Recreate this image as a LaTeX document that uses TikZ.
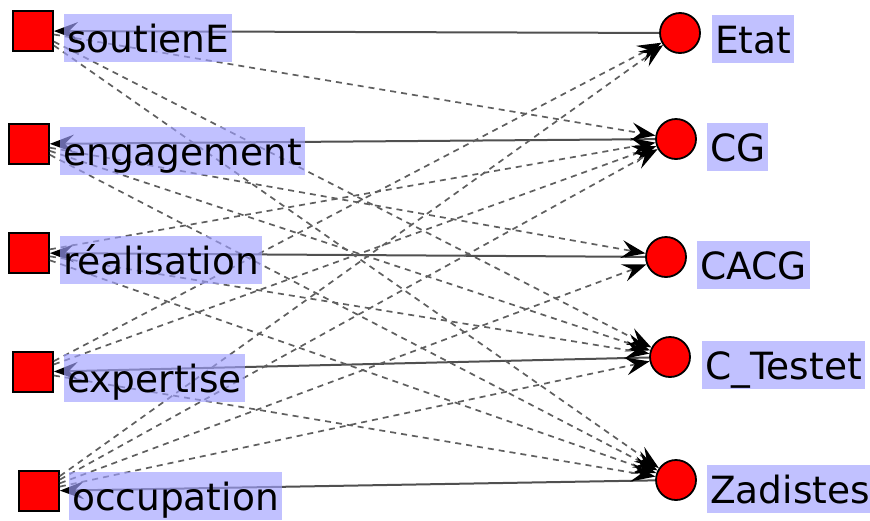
\documentclass[tikz,border=0pt]{standalone}
\usepackage{fontspec}
\setmainfont{DejaVu Sans}
\usetikzlibrary{arrows.meta}
\definecolor{lab}{RGB}{160,160,255}
\definecolor{solidc}{RGB}{80,80,80}
\definecolor{dashc}{RGB}{95,95,95}
\begin{document}
\begin{tikzpicture}[x=1pt,y=-1pt,
  sq/.style={draw=black,line width=1.8pt,fill=red,minimum size=40pt,inner sep=0pt},
  circ/.style={circle,draw=black,line width=1.8pt,fill=red,minimum size=40pt,inner sep=0pt},
  lbl/.style={fill=lab,fill opacity=0.65,text opacity=1,inner xsep=3pt,inner ysep=0pt,
    text height=38pt,text depth=10pt,anchor=base west,font=\fontsize{37.5}{40}\selectfont},
  tip/.style={-{Stealth[length=24pt,width=18pt,inset=9pt,color=black]}},
  soledge/.style={tip,draw=solidc,line width=2pt},
  dashedge/.style={tip,draw=dashc,line width=1.7pt,dash pattern=on 6pt off 5pt}
]
\useasboundingbox (0,0) rectangle (870,520);
% left squares
\node[sq] (sS) at (33,31) {};
\node[sq] (sEn) at (29,144) {};
\node[sq] (sR) at (29,253) {};
\node[sq] (sEx) at (33,372) {};
\node[sq] (sO) at (39,491) {};
% right circles
\node[circ] (cE) at (680,33) {};
\node[circ] (cCG) at (676,139) {};
\node[circ] (cCA) at (666,257) {};
\node[circ] (cT) at (670,357) {};
\node[circ] (cZ) at (676,480) {};
% solid edges
\draw[soledge] (cE) -- (sS);
\draw[soledge] (cCG) -- (sEn);
\draw[soledge] (cCA) -- (sR);
\draw[soledge] (cT) -- (sEx);
\draw[soledge] (cZ) -- (sO);
% dashed edges
\draw[dashedge] (sS) -- (cCG);
\draw[dashedge] (sS) -- (cT);
\draw[dashedge] (sS) -- (cZ);
\draw[dashedge] (sEn) -- (cCA);
\draw[dashedge] (sEn) -- (cT);
\draw[dashedge] (sEn) -- (cZ);
\draw[dashedge] (sR) -- (cCG);
\draw[dashedge] (sR) -- (cT);
\draw[dashedge] (sR) -- (cZ);
\draw[dashedge] (sEx) -- (cE);
\draw[dashedge] (sEx) -- (cCG);
\draw[dashedge] (sEx) -- (cZ);
\draw[dashedge] (sO) -- (cE);
\draw[dashedge] (sO) -- (cCG);
\draw[dashedge] (sO) -- (cCA);
\draw[dashedge] (sO) -- (cT);
% labels
\node[lbl] (lS) at (64,52) {soutienE};
\node[lbl] (lEn) at (60,165) {engagement};
\node[lbl] (lR) at (60,274) {réalisation};
\node[lbl] (lEx) at (64,392) {expertise};
\node[lbl] (lO) at (69,510) {occupation};
\node[lbl] (lE) at (712,53) {Etat};
\node[lbl] (lCG) at (707,161) {CG};
\node[lbl] (lCA) at (697,279) {CACG};
\node[lbl] (lT) at (702,379) {C\_Testet};
\node[lbl] (lZ) at (707,503) {Zadistes};
\end{tikzpicture}
\end{document}
